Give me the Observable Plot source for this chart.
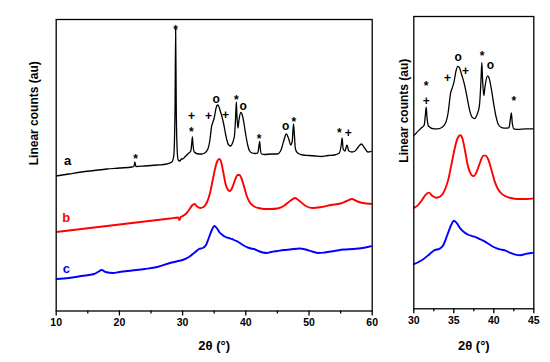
<!DOCTYPE html>
<html><head><meta charset="utf-8">
<script src="https://cdn.jsdelivr.net/npm/d3@7"></script>
<script src="https://cdn.jsdelivr.net/npm/@observablehq/plot@0.6"></script>
<style>
body{margin:0;background:#fff}
#chart{position:relative;width:550px;height:362px;background:#fff;overflow:hidden}
#chart svg{position:absolute;top:0}
#chart svg text{font-weight:bold}
</style></head><body><div id="chart"></div>
<script>
// ---- data: 2θ (°) vs stacked linear counts (au) ----
const patternA = [[10,135],[12,137],[14,139],[16,140.5],[18,142],[20,143],[22,144],[22.3,144.5],[22.45,149],[22.6,144.5],[24,145],[26,146],[27.5,147],[28.3,149],[28.6,155],[28.8,200],[28.9,282],[29.0,200],[29.15,160],[29.3,151],[29.6,150],[29.8,152],[30,152],[30.5,155],[31,158],[31.3,160],[31.45,168],[31.55,174],[31.65,166],[31.85,159],[32.5,157],[33,157],[33.5,158],[34,162],[34.3,170],[34.6,185],[34.8,189],[35,193],[35.3,203],[35.5,206],[35.7,205],[36,199],[36.2,195],[36.5,187],[36.8,177],[37,171],[37.3,166],[37.6,165],[37.9,168],[38.2,175],[38.4,195],[38.5,209],[38.6,195],[38.75,183],[38.9,190],[39.2,198.5],[39.4,197],[39.7,188],[40,176],[40.3,166],[40.6,160],[41,158],[41.5,157.5],[41.9,158],[42.1,166],[42.2,169.5],[42.3,162],[42.5,157],[43,156.5],[44,157],[45,157],[45.5,160],[46,170],[46.4,177],[46.8,172],[47.1,166],[47.35,170],[47.55,187],[47.7,175],[47.85,162],[48.2,158],[49,156],[50,155.5],[51,155],[52,154.5],[53,155.5],[54,156],[54.8,158],[55.1,166],[55.25,173],[55.4,162],[55.7,160],[56,166],[56.3,160],[56.8,159],[57.3,160],[57.8,164],[58.3,167],[58.8,163],[59.3,159],[60,160]];
const patternB = [[10,79],[12,80.5],[14,82],[16,83.5],[18,85],[20,86.5],[22,88],[24,89.5],[26,91],[28,92.5],[29.3,93.5],[29.5,91],[29.7,94],[30,95],[30.5,97],[31,101],[31.5,105.5],[31.9,107],[32.3,104.5],[32.8,103],[33.3,104],[33.8,108],[34.3,117],[34.8,132],[35.2,144],[35.5,150],[35.8,152],[36.1,149],[36.4,140],[36.8,127],[37.2,121],[37.5,120],[37.9,124],[38.3,131],[38.7,136],[39,136],[39.3,133],[39.7,125],[40.1,116],[40.5,110],[41,106],[41.5,104],[42,103],[43,102],[44,102],[45,102.5],[46,105],[47,110],[47.8,113],[48.5,110],[49.5,105],[50.5,103],[52,104],[53.5,106],[55,107.5],[56,110],[56.8,112],[57.5,110],[58.5,108],[60,107]];
const patternC = [[10,32],[12,33],[14,35],[16,37],[16.6,39],[17.2,41],[17.8,39],[19,38],[20,39],[22,40.5],[24,42],[26,44],[28,48],[29,49.5],[30,51],[31,54],[32,59],[32.6,62],[33.2,63],[33.7,66],[34.2,74],[34.7,82],[35,85],[35.4,83],[35.8,79],[36.3,76],[36.8,74],[37.3,73],[37.8,72],[38.3,70.5],[38.8,69],[39.3,67],[39.8,65],[40.3,63.5],[40.8,62.5],[41.3,62],[42,60],[42.7,58.5],[43.3,58],[44,59],[45,60],[46,61],[47,61.5],[48.5,62.5],[49.5,61.5],[50.5,59.5],[51.5,58],[52.5,58.5],[54,60],[55.5,61.5],[57,62],[58.5,63],[60,65]];
const seriesNames = ["a", "b", "c"];
const seriesColors = ["#000000", "#ff0000", "#0000ff"];
const seriesLabelPos = [[11.8,150],[11.6,93],[11.6,42]];
const peaksLeft = [
  {s:"*",x:22.56,y:155},{s:"*",x:28.9,y:284},{s:"+",x:31.4,y:195},{s:"*",x:31.4,y:182},
  {s:"+",x:34.1,y:195},{s:"o",x:35.3,y:211},{s:"+",x:36.8,y:196},{s:"*",x:38.5,y:214},
  {s:"o",x:39.6,y:204},{s:"*",x:42.1,y:175},{s:"o",x:46.3,y:184},{s:"*",x:47.6,y:192},
  {s:"*",x:54.8,y:181},{s:"+",x:56.2,y:178}];
const peaksRight = [
  {s:"*",x:31.55,y:192.5},{s:"+",x:31.55,y:179},{s:"+",x:34.2,y:197},{s:"o",x:35.55,y:213},
  {s:"+",x:36.46,y:202},{s:"*",x:38.55,y:216},{s:"o",x:39.59,y:206.6},{s:"*",x:42.5,y:180.7}];
const ticksLeft = [10,20,30,40,50,60];
const minorLeft = [15,25,35,45,55];
const ticksRight = [30,35,40,45];
const minorRight = [32.5,37.5,42.5];
const xTitle = "2θ (°)";
const yTitle = "Linear counts (au)";

const FONT = '"Liberation Sans", Arial, Helvetica, sans-serif';
const patterns = [patternA, patternB, patternC];

function panel(o) {
  const marks = [];
  patterns.forEach((p, i) => {
    marks.push(Plot.line(p, {x: d => d[0], y: d => d[1], stroke: seriesColors[i],
      strokeWidth: i === 0 ? 1.3 : 1.9, curve: "monotone-x", clip: true}));
  });
  marks.push(Plot.frame({stroke: "#000", strokeWidth: 1.3}));
  marks.push(Plot.axisX({ticks: o.major, tickSize: 5, tickPadding: 3, fontSize: 10.5,
    fontWeight: "bold", label: null, strokeWidth: 1.3}));
  marks.push(Plot.axisX({ticks: o.minor, tickSize: 3, tickFormat: () => "", label: null, strokeWidth: 1.3}));
  const dys = {"*": 3, "+": 0, "o": -0.6};
  for (const s of ["*", "+", "o"]) {
    marks.push(Plot.text(o.peaks.filter(d => d.s === s), {x: "x", y: "y", text: "s",
      fontSize: 12, fontWeight: "bold", dy: dys[s]}));
  }
  if (o.seriesLabels) {
    seriesNames.forEach((n, i) => {
      marks.push(Plot.text([n], {x: () => seriesLabelPos[i][0], y: () => seriesLabelPos[i][1],
        fill: seriesColors[i], fontSize: 13, fontWeight: "bold"}));
    });
  }
  marks.push(Plot.text([yTitle], {frameAnchor: "left", dx: o.ylabDx, rotate: -90, fontSize: 12, fontWeight: "bold"}));
  marks.push(Plot.text([xTitle], {frameAnchor: "bottom", dy: o.xlabDy, fontSize: 13, fontWeight: "bold"}));
  const svg = Plot.plot({
    width: o.width, height: 362,
    marginLeft: o.mL, marginRight: o.mR, marginTop: o.mT, marginBottom: o.mB,
    x: {domain: o.xDomain, axis: null},
    y: {domain: o.yDomain, axis: null},
    style: {fontFamily: FONT, fontWeight: "bold", background: "transparent", overflow: "visible"},
    marks
  });
  svg.style.left = o.left + "px";
  return svg;
}

const chart = document.getElementById("chart");
chart.appendChild(panel({left: 0, width: 385, mL: 55.7, mR: 385 - 371.7, mT: 19, mB: 362 - 310.5,
  xDomain: [10, 60], yDomain: [0, 291.5], major: ticksLeft, minor: minorLeft, peaks: peaksLeft,
  seriesLabels: true, ylabDx: -21.7, xlabDy: 38.5}));
chart.appendChild(panel({left: 380, width: 170, mL: 33.3, mR: 16.7, mT: 16, mB: 362 - 308.3,
  xDomain: [30, 45], yDomain: [16, 245], major: ticksRight, minor: minorRight, peaks: peaksRight,
  seriesLabels: false, ylabDx: -9.3, xlabDy: 40.7}));
</script></body></html>
